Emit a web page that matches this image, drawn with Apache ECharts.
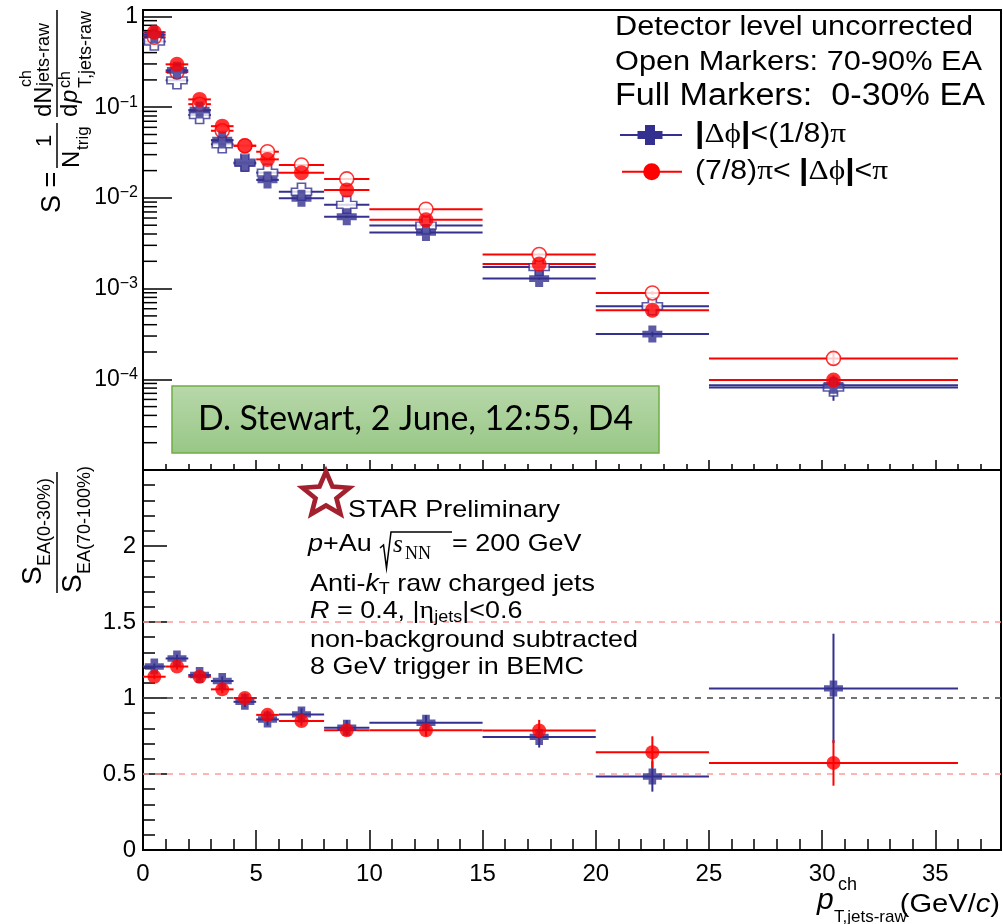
<!DOCTYPE html>
<html>
<head>
<meta charset="utf-8">
<script src="https://cdn.jsdelivr.net/npm/echarts@6/dist/echarts.min.js"></script>
<style>
  html, body { margin: 0; padding: 0; background: #fff; }
  #chart { width: 1003px; height: 924px; }
</style>
</head>
<body>
<div id="chart"></div>
<script>
// ---- pT bins (GeV/c) ----
const binLo     = [0, 1, 2, 3, 4, 5, 6, 8, 10, 15, 20, 25];
const binHi     = [1, 2, 3, 4, 5, 6, 8, 10, 15, 20, 25, 36];
const binCenter = [0.5, 1.5, 2.5, 3.5, 4.5, 5.5, 7, 9, 12.5, 17.5, 22.5, 30.5];

// ---- per-trigger jet spectra S ----
// |Δφ| < π/8, 0-30% EA (full crosses)
const nearHigh    = [0.63, 0.255, 0.093, 0.0434, 0.024, 0.0158, 0.0099, 0.0062, 0.00416, 0.00129, 0.000315, 0.0000859];
const nearHighErr = [0.006, 0.003, 0.0012, 0.0006, 0.0004, 0.0003, 0.0002, 0.00015, 0.00008, 0.00004, 0.00002, 0.000012];
// |Δφ| < π/8, 70-90% EA (open crosses)
const nearLow     = [0.53, 0.198, 0.082, 0.039, 0.0245, 0.019, 0.0117, 0.0084, 0.00496, 0.00173, 0.00064, 0.000081];
const nearLowErr  = [0.008, 0.004, 0.0016, 0.0008, 0.0006, 0.0005, 0.0003, 0.0002, 0.00012, 0.00006, 0.00004, 0.000023];
// 7π/8 < |Δφ| < π, 0-30% EA (full circles)
const awayHigh    = [0.67, 0.297, 0.122, 0.0618, 0.0376, 0.0266, 0.019, 0.0122, 0.00573, 0.00187, 0.000578, 0.0000984];
const awayHighErr = [0.006, 0.003, 0.0012, 0.0006, 0.0004, 0.0003, 0.0002, 0.00015, 0.00008, 0.00004, 0.00002, 0.000012];
// 7π/8 < |Δφ| < π, 70-90% EA (open circles)
const awayLow     = [0.59, 0.244, 0.108, 0.055, 0.0376, 0.0323, 0.0231, 0.0162, 0.0075, 0.00238, 0.000896, 0.00017];
const awayLowErr  = [0.008, 0.004, 0.0016, 0.0009, 0.0006, 0.0005, 0.0004, 0.0003, 0.00013, 0.00006, 0.00004, 0.000028];

// ---- ratio S(EA 0-30%) / S(EA 70-100%) ----
const nearRatio    = [1.207, 1.26, 1.151, 1.112, 0.975, 0.859, 0.892, 0.804, 0.837, 0.744, 0.484, 1.063];
const nearRatioErr = [0.02, 0.025, 0.025, 0.03, 0.035, 0.04, 0.04, 0.05, 0.05, 0.07, 0.1, 0.36];
const awayRatio    = [1.14, 1.207, 1.14, 1.057, 1.0, 0.889, 0.848, 0.788, 0.788, 0.786, 0.643, 0.573];
const awayRatioErr = [0.015, 0.02, 0.02, 0.025, 0.03, 0.03, 0.03, 0.035, 0.04, 0.07, 0.105, 0.15];

// ---- reference levels and axis ticks ----
const refLevels    = [1.5, 1, 0.5];
const minorDecades = [1e-5, 1e-4, 1e-3, 1e-2, 1e-1];
const minorSteps   = [2, 3, 4, 5, 6, 7, 8, 9];

const X_MIN = 0, X_MAX = 37.9;
const BLUE = '#33308f';
const RED = '#ff0000';
const HELV = "'Liberation Sans', Arial, Helvetica, sans-serif";
const SERIF = "'Liberation Serif', 'DejaVu Serif', serif";
const CROSS = 'path://M3,0H7V3H10V7H7V10H3V7H0V3H3Z';

const chart = echarts.init(document.getElementById('chart'), null, { renderer: 'canvas' });

function measure(text, font) {
  const ctx = document.createElement('canvas').getContext('2d');
  ctx.font = font;
  return ctx.measureText(text).width;
}

// horizontal bin-width bar plus vertical error bar
function errorBars(color) {
  return function (params, api) {
    const c = api.value(0), v = api.value(1), lo = api.value(2), hi = api.value(3), e = api.value(4);
    const pL = api.coord([lo, v]), pR = api.coord([hi, v]);
    const pB = api.coord([c, Math.max(v - e, 1e-9)]), pT = api.coord([c, v + e]);
    return {
      type: 'group',
      children: [
        { type: 'line', shape: { x1: pL[0], y1: pL[1], x2: pR[0], y2: pR[1] }, style: { stroke: color, lineWidth: 2 } },
        { type: 'line', shape: { x1: pB[0], y1: pB[1], x2: pT[0], y2: pT[1] }, style: { stroke: color, lineWidth: 2 } }
      ]
    };
  };
}

function barSeries(grid, vals, errs, color) {
  return {
    type: 'custom', xAxisIndex: grid, yAxisIndex: grid,
    renderItem: errorBars(color),
    encode: { x: 0, y: 1 },
    data: binCenter.map((c, i) => [c, vals[i], binLo[i], binHi[i], errs[i]]),
    silent: true
  };
}

function markerSeries(grid, vals, symbol, size, style) {
  return {
    type: 'scatter', xAxisIndex: grid, yAxisIndex: grid,
    symbol: symbol, symbolSize: size,
    itemStyle: style,
    data: binCenter.map((c, i) => [c, vals[i]]),
    silent: true
  };
}

// log-axis minor ticks
const minorTickData = [];
minorDecades.forEach(d => minorSteps.forEach(k => minorTickData.push([X_MIN, k * d])));

const series = [
  {
    type: 'custom', xAxisIndex: 0, yAxisIndex: 0, silent: true,
    encode: { x: 0, y: 1 },
    data: minorTickData,
    renderItem: function (params, api) {
      const p = api.coord([api.value(0), api.value(1)]);
      return { type: 'line', shape: { x1: p[0], y1: p[1], x2: p[0] + 14, y2: p[1] }, style: { stroke: '#000', lineWidth: 1.5 } };
    }
  },
  barSeries(0, nearLow, nearLowErr, BLUE),
  markerSeries(0, nearLow, CROSS, [20, 17], { color: '#fff', borderColor: BLUE, borderWidth: 1.6 }),
  barSeries(0, awayLow, awayLowErr, RED),
  markerSeries(0, awayLow, 'circle', 14, { color: '#fff', borderColor: RED, borderWidth: 1.6 }),
  barSeries(0, nearHigh, nearHighErr, BLUE),
  markerSeries(0, nearHigh, CROSS, [20, 17], { color: BLUE }),
  barSeries(0, awayHigh, awayHighErr, RED),
  markerSeries(0, awayHigh, 'circle', 15, { color: RED }),

  {
    type: 'custom', xAxisIndex: 1, yAxisIndex: 1, silent: true,
    encode: { x: 0, y: 1 },
    data: refLevels.map(v => [X_MIN, v]),
    renderItem: function (params, api) {
      const v = api.value(1);
      const a = api.coord([X_MIN, v]), b = api.coord([X_MAX, v]);
      return {
        type: 'line', shape: { x1: a[0], y1: a[1], x2: b[0], y2: b[1] },
        style: { stroke: v === 1 ? '#444' : '#ff9c9c', lineWidth: 1.5, lineDash: [6, 6] }
      };
    }
  },
  barSeries(1, nearRatio, nearRatioErr, BLUE),
  markerSeries(1, nearRatio, CROSS, [19, 16], { color: BLUE }),
  barSeries(1, awayRatio, awayRatioErr, RED),
  markerSeries(1, awayRatio, 'circle', 14, { color: RED })
];

const tickStyle = { color: '#000', width: 1.5 };

// ---------- decorations: titles, legend, annotations ----------
function text(x, y, str, size, extra) {
  const el = {
    type: 'text', x: x, y: y, z: 50,
    style: {
      text: str, fontFamily: HELV, fontSize: size, fill: '#000',
      align: 'left', verticalAlign: 'middle', textAlign: 'left', textVerticalAlign: 'middle'
    }
  };
  if (extra) {
    if (extra.style) Object.assign(el.style, extra.style);
    if (extra.el) Object.assign(el, extra.el);
  }
  return el;
}

function crossPoints(cx, cy, w, h) {
  const a = w * 0.2, b = h * 0.2, W = w / 2, H = h / 2;
  return [[cx - a, cy - H], [cx + a, cy - H], [cx + a, cy - b], [cx + W, cy - b], [cx + W, cy + b], [cx + a, cy + b],
          [cx + a, cy + H], [cx - a, cy + H], [cx - a, cy + b], [cx - W, cy + b], [cx - W, cy - b], [cx - a, cy - b]];
}

function starPoints(cx, cy, R, r) {
  const pts = [];
  for (let i = 0; i < 10; i++) {
    const ang = -Math.PI / 2 + i * Math.PI / 5;
    const rad = i % 2 === 0 ? R : r;
    pts.push([cx + rad * Math.cos(ang), cy + rad * Math.sin(ang)]);
  }
  return pts;
}

// upper y-axis title, drawn along the axis (rotated)
const topTitle = {
  type: 'group', x: 57, y: 215, rotation: Math.PI / 2, z: 50,
  children: [
    text(2, -4, 'S =', 27),
    text(74, -12, '1', 22, { style: { align: 'center', textAlign: 'center' } }),
    { type: 'line', shape: { x1: 47, y1: 0, x2: 92, y2: 0 }, style: { stroke: '#000', lineWidth: 1.5 } },
    text(47, 15, 'N', 24),
    text(65, 26, 'trig', 17),
    { type: 'line', shape: { x1: 98, y1: 0, x2: 205, y2: 0 }, style: { stroke: '#000', lineWidth: 1.5 } },
    text(98, -13, 'dN', 24),
    text(128, -30, 'ch', 16),
    text(129, -13, 'jets-raw', 18),
    text(98, 13, 'd', 24),
    text(112, 13, 'p', 24, { style: { fontStyle: 'italic' } }),
    text(127, 9, 'ch', 16),
    text(127, 29, 'T,jets-raw', 18)
  ]
};

// lower y-axis title
const lowTitle = {
  type: 'group', x: 57, y: 595, rotation: Math.PI / 2, z: 50,
  children: [
    { type: 'line', shape: { x1: 2, y1: 0, x2: 123, y2: 0 }, style: { stroke: '#000', lineWidth: 1.5 } },
    text(10, -24, 'S', 28),
    text(29, -12, 'EA(0-30%)', 18),
    text(2, 16, 'S', 28),
    text(21, 28, 'EA(70-100%)', 18)
  ]
};

// text widths fitted to the frame layout
const fit1 = 358 / measure('Detector level uncorrected', '27px ' + HELV);
const fit2 = 367 / measure('Open Markers: 70-90% EA', '27px ' + HELV);
const fit3 = 370 / measure('Full Markers:  0-30% EA', '31px ' + HELV);
const fitBlock = 328 / measure('non-background subtracted', '24px ' + HELV);
const fitBox = 435 / measure('D. Stewart, 2 June, 12:55, D4', '34px Lato');

const richBase = {
  n: { fontFamily: HELV, fontSize: 24, fill: '#000', color: '#000', lineHeight: 28 },
  i: { fontFamily: HELV, fontSize: 24, fontStyle: 'italic', fill: '#000', color: '#000', lineHeight: 28 },
  sub: { fontFamily: HELV, fontSize: 16, fill: '#000', color: '#000', lineHeight: 18, verticalAlign: 'bottom' },
  g: { fontFamily: SERIF, fontSize: 25, fill: '#000', color: '#000', lineHeight: 28 }
};

function richText(x, y, str, sx) {
  return {
    type: 'text', x: x, y: y, z: 50, scaleX: sx,
    style: { text: str, rich: richBase, fontFamily: HELV, fontSize: 24, fill: '#000',
             align: 'left', verticalAlign: 'middle', textAlign: 'left', textVerticalAlign: 'middle' }
  };
}

const legendRich = {
  n: { fontFamily: HELV, fontSize: 27, fill: '#000', color: '#000', lineHeight: 32 },
  b: { fontFamily: HELV, fontSize: 30, fontWeight: 'bold', fill: '#000', color: '#000', lineHeight: 32 },
  g: { fontFamily: SERIF, fontSize: 28, fill: '#000', color: '#000', lineHeight: 32 }
};

function legendText(x, y, str) {
  return {
    type: 'text', x: x, y: y, z: 50, scaleX: 1.12,
    style: { text: str, rich: legendRich, fontFamily: HELV, fontSize: 27, fill: '#000',
             align: 'left', verticalAlign: 'middle', textAlign: 'left', textVerticalAlign: 'middle' }
  };
}

const graphics = [
  topTitle,
  lowTitle,

  // header lines and legend
  text(615, 28, 'Detector level uncorrected', 27, { el: { scaleX: fit1 } }),
  text(615, 63, 'Open Markers: 70-90% EA', 27, { el: { scaleX: fit2 } }),
  text(615, 96, 'Full Markers:  0-30% EA', 31, { el: { scaleX: fit3 } }),
  { type: 'line', z: 50, shape: { x1: 620, y1: 135, x2: 682, y2: 135 }, style: { stroke: BLUE, lineWidth: 2 } },
  { type: 'polygon', z: 51, shape: { points: crossPoints(650, 135, 25, 20) }, style: { fill: BLUE } },
  legendText(695, 135, '{b||}{g|Δϕ}{b||}{n|<(1/8)}{g|π}'),
  { type: 'line', z: 50, shape: { x1: 622, y1: 171.7, x2: 682, y2: 171.7 }, style: { stroke: RED, lineWidth: 2 } },
  { type: 'circle', z: 51, shape: { cx: 651.7, cy: 171.7, r: 8.5 }, style: { fill: RED } },
  legendText(695, 171.7, '{n|(7/8)}{g|π}{n|< }{b||}{g|Δϕ}{b||}{n|<}{g|π}'),

  // green annotation box
  {
    type: 'rect', z: 40,
    shape: { x: 172, y: 386, width: 487, height: 67 },
    style: {
      fill: new echarts.graphic.LinearGradient(0, 0, 0, 1, [
        { offset: 0, color: '#b8d8aa' }, { offset: 1, color: '#98c786' }
      ]),
      stroke: '#70ad47', lineWidth: 1.5
    }
  },
  {
    type: 'text', x: 415.5, y: 419.5, z: 41, scaleX: fitBox,
    style: { text: 'D. Stewart, 2 June, 12:55, D4', fontFamily: 'Lato', fontSize: 34, fill: '#000',
             align: 'center', verticalAlign: 'middle', textAlign: 'center', textVerticalAlign: 'middle' }
  },

  // STAR logo and conditions
  { type: 'polygon', z: 50, scaleX: 1.05, x: 0, originX: 326, originY: 495,
    shape: { points: starPoints(326, 495, 23.5, 10.5) },
    style: { fill: '#fff', stroke: '#a3202e', lineWidth: 4.5, lineJoin: 'miter' } },
  text(348, 510, 'STAR Preliminary', 24, { el: { scaleX: fitBlock } }),
  richText(308, 544, '{i|p}{n|+Au}', fitBlock),
  { type: 'polyline', z: 50, shape: { points: [[380, 548], [383.5, 545], [386.5, 568], [391, 532], [452, 532]] },
    style: { stroke: '#000', lineWidth: 1.5, fill: null } },
  text(393, 545, 's', 25, { style: { fontFamily: SERIF, fontStyle: 'italic' } }),
  text(405, 554, 'NN', 18, { style: { fontFamily: SERIF } }),
  text(452, 544, '= 200 GeV', 24, { el: { scaleX: fitBlock } }),
  richText(310, 584, '{n|Anti-}{i|k}{sub|T}{n| raw charged jets}', fitBlock),
  richText(310, 611.5, '{i|R}{n| = 0.4, |}{g|η}{sub|jets}{n||<0.6}', fitBlock),
  text(310, 640, 'non-background subtracted', 24, { el: { scaleX: fitBlock } }),
  text(310, 667, '8 GeV trigger in BEMC', 24, { el: { scaleX: fitBlock } }),

  // x-axis title
  text(817, 901, 'p', 30, { style: { fontStyle: 'italic' } }),
  text(838, 885, 'ch', 18),
  text(834, 917, 'T,jets-raw', 17),
  {
    type: 'text', x: 1000, y: 905, z: 50, scaleX: 1.12,
    style: { text: '(GeV/{i|c})', rich: { i: { fontFamily: HELV, fontSize: 26, fontStyle: 'italic', fill: '#000', color: '#000' } },
             fontFamily: HELV, fontSize: 26, fill: '#000',
             align: 'right', verticalAlign: 'middle', textAlign: 'right', textVerticalAlign: 'middle' }
  }
];

const option = {
  animation: false,
  backgroundColor: '#fff',
  grid: [
    { left: 143, right: 2, top: 10, height: 460, show: true, borderColor: '#000', borderWidth: 2, outerBoundsMode: 'none', containLabel: false },
    { left: 143, right: 2, top: 470, bottom: 74, show: true, borderColor: '#000', borderWidth: 2, outerBoundsMode: 'none', containLabel: false }
  ],
  xAxis: [
    {
      gridIndex: 0, type: 'value', min: X_MIN, max: X_MAX, interval: 5,
      axisLine: { show: true, lineStyle: { color: '#000', width: 2 } },
      axisTick: { show: true, inside: true, length: 10, lineStyle: tickStyle },
      minorTick: { show: true, splitNumber: 5, length: 6, lineStyle: tickStyle },
      axisLabel: { show: false },
      splitLine: { show: false }, minorSplitLine: { show: false }
    },
    {
      gridIndex: 1, type: 'value', min: X_MIN, max: X_MAX, interval: 5,
      axisLine: { show: true, lineStyle: { color: '#000', width: 2 } },
      axisTick: { show: true, inside: true, length: 20, lineStyle: tickStyle },
      minorTick: { show: true, splitNumber: 5, length: 11, lineStyle: tickStyle },
      axisLabel: {
        show: true, margin: 12, fontSize: 24, fontFamily: HELV, color: '#000',
        formatter: v => (Math.abs(v % 5) < 1e-9 ? String(v) : '')
      },
      splitLine: { show: false }, minorSplitLine: { show: false }
    }
  ],
  yAxis: [
    {
      gridIndex: 0, type: 'log', logBase: 10, min: 1e-5, max: 1.18,
      axisLine: { show: true, lineStyle: { color: '#000', width: 2 } },
      axisTick: { show: true, inside: true, length: 29, lineStyle: tickStyle },
      minorTick: { show: false },
      axisLabel: {
        show: true, margin: 5, color: '#000',
        formatter: function (v) {
          const e = Math.round(Math.log10(v));
          if (Math.abs(Math.log10(v) - e) > 0.01 || e <= -5) return '';
          return e === 0 ? '{b|1}' : '{b|10}{s|−' + (-e) + '}';
        },
        rich: {
          b: { fontFamily: HELV, fontSize: 23, color: '#000', lineHeight: 26 },
          s: { fontFamily: HELV, fontSize: 16, color: '#000', lineHeight: 12, verticalAlign: 'top' }
        }
      },
      splitLine: { show: false }, minorSplitLine: { show: false }
    },
    {
      gridIndex: 1, type: 'value', min: 0, max: 2.5, interval: 0.5,
      axisLine: { show: true, lineStyle: { color: '#000', width: 2 } },
      axisTick: { show: true, inside: true, length: 24, lineStyle: tickStyle },
      minorTick: { show: true, splitNumber: 5, length: 12, lineStyle: tickStyle },
      axisLabel: {
        show: true, margin: 7, fontSize: 24, fontFamily: HELV, color: '#000',
        formatter: v => (v > 2.4 ? '' : String(v))
      },
      splitLine: { show: false }, minorSplitLine: { show: false }
    }
  ],
  series: series,
  graphic: { elements: graphics }
};

chart.setOption(option);
</script>
</body>
</html>
